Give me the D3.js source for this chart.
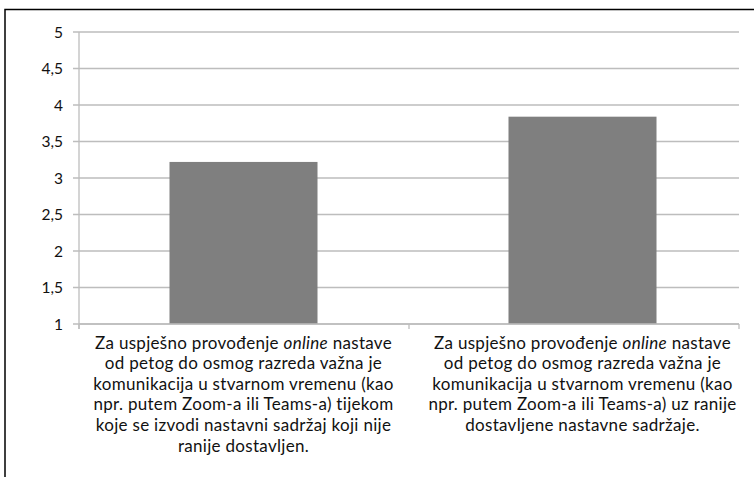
<!DOCTYPE html>
<html lang="hr">
<head>
<meta charset="UTF-8">
<script src="https://d3js.org/d3.v7.min.js"></script>
<style>
  body { margin: 0; background: #fff; }
  svg { display: block; font-family: Lato, "Open Sans", sans-serif; }
</style>
</head>
<body>
<script>
// podaci
const categories = ["A", "B"];
const values = [3.22, 3.84];
const yTicks = [1, 1.5, 2, 2.5, 3, 3.5, 4, 4.5, 5];
// tekst kategorija, red po red; {i} = kurziv
const labelLines = [
  ["Za uspješno provođenje {online} nastave",
   "od petog do osmog razreda važna je",
   "komunikacija u stvarnom vremenu (kao",
   "npr. putem Zoom-a ili Teams-a) tijekom",
   "koje se izvodi nastavni sadržaj koji nije",
   "ranije dostavljen."],
  ["Za uspješno provođenje {online} nastave",
   "od petog do osmog razreda važna je",
   "komunikacija u stvarnom vremenu (kao",
   "npr. putem Zoom-a ili Teams-a) uz ranije",
   "dostavljene nastavne sadržaje."]
];

const width = 754, height = 477;
const plotLeft = 79, plotRight = 739, plotTop = 32, plotBottom = 324;

const svg = d3.select("body").append("svg")
  .attr("width", width)
  .attr("height", height);

// okvir
svg.append("path")
  .attr("d", `M5,${height} V9.5 H${width}`)
  .attr("fill", "none")
  .attr("stroke", "#000")
  .attr("stroke-width", 1.5);

const y = d3.scaleLinear().domain([1, 5]).range([plotBottom, plotTop]);
const x = d3.scaleBand().domain(categories).range([74, 752]).paddingInner(0).paddingOuter(0);
const barW = 148;

// mreža
svg.append("g")
  .selectAll("line")
  .data(yTicks)
  .enter().append("line")
  .attr("x1", plotLeft - 6)
  .attr("x2", plotRight)
  .attr("y1", d => y(d))
  .attr("y2", d => y(d))
  .attr("stroke", "#bdbdbd")
  .attr("stroke-width", 1.3);

// y os
svg.append("line")
  .attr("x1", plotLeft).attr("x2", plotLeft)
  .attr("y1", plotTop).attr("y2", plotBottom + 5)
  .attr("stroke", "#bdbdbd").attr("stroke-width", 1.3);

svg.append("g")
  .selectAll("text")
  .data(yTicks)
  .enter().append("text")
  .attr("x", plotLeft - 16)
  .attr("y", d => y(d))
  .attr("dy", "0.36em")
  .attr("text-anchor", "end")
  .attr("font-size", 15.5)
  .attr("fill", "#111")
  .text(d => String(d).replace(".", ","));

// stupci
svg.append("g")
  .selectAll("rect")
  .data(values)
  .enter().append("rect")
  .attr("x", (d, i) => x(categories[i]) + x.bandwidth() / 2 - barW / 2)
  .attr("width", barW)
  .attr("y", d => y(d))
  .attr("height", d => y(1) - y(d))
  .attr("fill", "#7f7f7f");

// x os
svg.append("line")
  .attr("x1", plotLeft).attr("x2", plotRight)
  .attr("y1", plotBottom).attr("y2", plotBottom)
  .attr("stroke", "#bdbdbd").attr("stroke-width", 1.3);

svg.append("g")
  .selectAll("line")
  .data([plotLeft, (plotLeft + plotRight) / 2, plotRight])
  .enter().append("line")
  .attr("x1", d => d).attr("x2", d => d)
  .attr("y1", plotBottom).attr("y2", plotBottom + 5)
  .attr("stroke", "#bdbdbd").attr("stroke-width", 1.3);

// oznake kategorija
categories.forEach((c, i) => {
  const cx = x(c) + x.bandwidth() / 2;
  const t = svg.append("text")
    .attr("text-anchor", "middle")
    .attr("font-size", 17)
    .attr("letter-spacing", 0.3)
    .attr("fill", "#111");
  labelLines[i].forEach((line, j) => {
    const ln = t.append("tspan").attr("x", cx).attr("y", 348.5 + j * 20.6);
    line.split(/(\{[^}]*\})/).filter(s => s).forEach(part => {
      const it = part.startsWith("{");
      ln.append("tspan")
        .attr("font-style", it ? "italic" : null)
        .text(it ? part.slice(1, -1) : part);
    });
  });
});
</script>
</body>
</html>
